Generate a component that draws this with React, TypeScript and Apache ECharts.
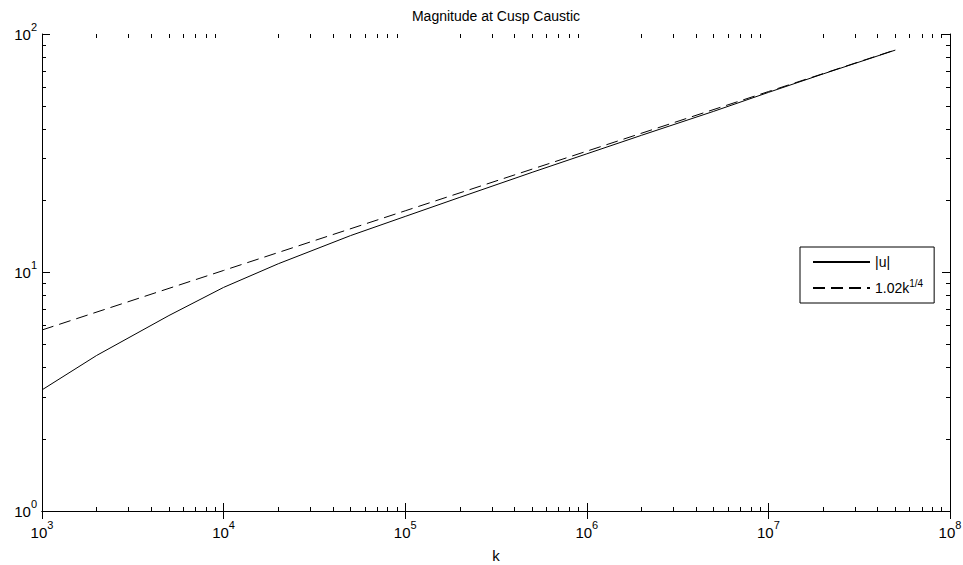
import React, { useEffect, useRef } from "react";
import * as echarts from "echarts";

// ---- data ----
const kValues = [1e3, 2e3, 5e3, 1e4, 2e4, 5e4, 1e5, 2e5, 5e5, 1e6, 2e6, 5e6, 1e7, 2e7, 5e7];
const uMagnitude = [3.22, 4.49, 6.6, 8.66, 10.88, 14.28, 17.18, 20.66, 26.3, 31.45, 37.6, 47.4, 56.9, 68.0, 85.6];
const fitK = [1e3, 1e4, 1e5, 1e6, 1e7, 5e7];
const fitValues = [5.74, 10.2, 18.14, 32.26, 57.36, 85.77];

const seriesNames = ["|u|", "1.02k^(1/4)"];
const xDecades = [3, 4, 5, 6, 7];
const yDecades = [0, 1];
const minorMultipliers = [2, 3, 4, 5, 6, 7, 8, 9];
const titleText = "Magnitude at Cusp Caustic";
const xName = "k";

const FONT = "'Liberation Sans', Arial, Helvetica, sans-serif";

const minorX: number[] = [];
xDecades.forEach((d) => minorMultipliers.forEach((m) => minorX.push(d + Math.log10(m))));
const minorY: number[] = [];
yDecades.forEach((d) => minorMultipliers.forEach((m) => minorY.push(d + Math.log10(m))));

const expRich = {
  b: { fontSize: 15, fontFamily: FONT, color: "#000" },
  s: { fontSize: 11, fontFamily: FONT, color: "#000", padding: [0, 0, 15, 0] },
};
const expFormatter = (v: number) => `{b|10}{s|${Math.round(Math.log10(v))}}`;

export default function App() {
  const ref = useRef<HTMLDivElement>(null);
  useEffect(() => {
    if (!ref.current) return;
    const chart = echarts.init(ref.current, undefined, { renderer: "svg" });
    const black = "#000";
    const majorTick = { show: true, inside: true, length: 8, lineStyle: { color: black, width: 1 } };
    const minorTick = { show: true, inside: true, length: 4, lineStyle: { color: black, width: 1 } };
    const axisLine = { show: true, lineStyle: { color: black, width: 1 } };
    const option: any = {
      animation: false,
      backgroundColor: "#fff",
      grid: { left: 42, right: 13, top: 34, bottom: 54, containLabel: false, outerBoundsMode: "none" },
      graphic: [
        {
          type: "text",
          x: 496,
          y: 16,
          style: {
            text: titleText,
            fontSize: 14,
            fontFamily: FONT,
            fill: black,
            textAlign: "center",
            textVerticalAlign: "middle",
          },
        },
      ],
      legend: {
        orient: "vertical",
        left: 800,
        top: 247,
        itemWidth: 57,
        itemHeight: 14,
        itemGap: 9,
        padding: [8, 11, 8, 12],
        backgroundColor: "#fff",
        borderColor: black,
        borderWidth: 1,
        borderRadius: 0,
        data: seriesNames,
        itemStyle: { opacity: 0, borderWidth: 0 },
        formatter: (name: string) => (name === seriesNames[1] ? "{n|1.02k}{s|1/4}" : `{n|${name}}`),
        textStyle: {
          color: black,
          fontSize: 14,
          fontFamily: FONT,
          rich: {
            n: { fontSize: 14, fontFamily: FONT, color: black },
            s: { fontSize: 10, fontFamily: FONT, color: black, padding: [0, 0, 10, 0] },
          },
        },
      },
      xAxis: [
        {
          type: "log",
          logBase: 10,
          min: 1e3,
          max: 1e8,
          position: "bottom",
          axisLine,
          axisTick: majorTick,
          splitLine: { show: false },
          axisLabel: { formatter: expFormatter, rich: expRich, margin: 8 },
          name: xName,
          nameLocation: "middle",
          nameGap: 37,
          nameTextStyle: { fontSize: 15, fontFamily: FONT, color: black },
        },
        {
          type: "log",
          logBase: 10,
          min: 1e3,
          max: 1e8,
          position: "top",
          axisLine,
          axisTick: majorTick,
          splitLine: { show: false },
          axisLabel: { show: false },
        },
        {
          type: "value",
          min: 3,
          max: 8,
          position: "bottom",
          axisLine: { show: false },
          axisTick: { ...minorTick, customValues: minorX },
          splitLine: { show: false },
          axisLabel: { show: false },
        },
        {
          type: "value",
          min: 3,
          max: 8,
          position: "top",
          axisLine: { show: false },
          axisTick: { ...minorTick, customValues: minorX },
          splitLine: { show: false },
          axisLabel: { show: false },
        },
      ],
      yAxis: [
        {
          type: "log",
          logBase: 10,
          min: 1,
          max: 100,
          position: "left",
          axisLine,
          axisTick: majorTick,
          splitLine: { show: false },
          axisLabel: { formatter: expFormatter, rich: expRich, margin: 5 },
        },
        {
          type: "log",
          logBase: 10,
          min: 1,
          max: 100,
          position: "right",
          axisLine,
          axisTick: majorTick,
          splitLine: { show: false },
          axisLabel: { show: false },
        },
        {
          type: "value",
          min: 0,
          max: 2,
          position: "left",
          axisLine: { show: false },
          axisTick: { ...minorTick, customValues: minorY },
          splitLine: { show: false },
          axisLabel: { show: false },
        },
        {
          type: "value",
          min: 0,
          max: 2,
          position: "right",
          axisLine: { show: false },
          axisTick: { ...minorTick, customValues: minorY },
          splitLine: { show: false },
          axisLabel: { show: false },
        },
      ],
      series: [
        {
          name: seriesNames[0],
          type: "line",
          xAxisIndex: 0,
          yAxisIndex: 0,
          symbol: "none",
          showSymbol: false,
          data: kValues.map((k, i) => [k, uMagnitude[i]]),
          lineStyle: { color: black, width: 1 },
          itemStyle: { color: black },
        },
        {
          name: seriesNames[1],
          type: "line",
          xAxisIndex: 0,
          yAxisIndex: 0,
          symbol: "none",
          showSymbol: false,
          data: fitK.map((k, i) => [k, fitValues[i]]),
          lineStyle: { color: black, width: 1, type: [12, 6] },
          itemStyle: { color: black },
        },
      ],
    };
    chart.setOption(option);
    return () => chart.dispose();
  }, []);
  return (
    <div
      ref={ref}
      style={{ position: "absolute", left: 0, top: 0, width: 963, height: 565, background: "#fff" }}
    />
  );
}
